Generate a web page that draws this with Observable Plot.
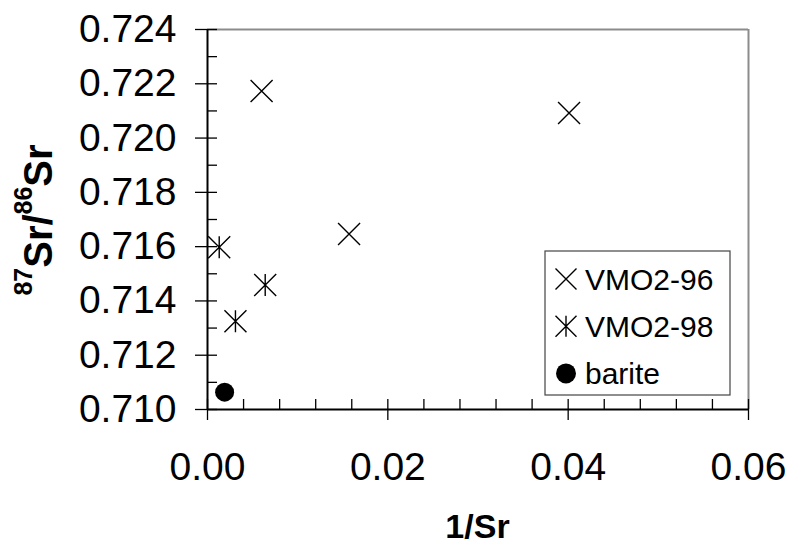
<!DOCTYPE html>
<html><head><meta charset="utf-8">
<script src="https://cdn.jsdelivr.net/npm/d3@7"></script>
<script src="https://cdn.jsdelivr.net/npm/@observablehq/plot@0.6"></script>
<style>body{margin:0;background:#fff}</style>
</head><body><div id="chart"></div>
<script>
// ---- data ----
const vmo96X = [0.0060, 0.0157, 0.0401];
const vmo96Y = [0.72173, 0.71647, 0.72092];
const vmo98X = [0.0013, 0.0031, 0.0064];
const vmo98Y = [0.71598, 0.71325, 0.71459];
const bariteX = [0.0019];
const bariteY = [0.71064];
const seriesNames = ["VMO2-96", "VMO2-98", "barite"];
const xTicks = [0.00, 0.02, 0.04, 0.06];
const xMinorTicks = [0.000, 0.004, 0.008, 0.012, 0.016, 0.020, 0.024, 0.028, 0.032, 0.036, 0.040, 0.044, 0.048, 0.052, 0.056, 0.060];
const yTicks = [0.710, 0.712, 0.714, 0.716, 0.718, 0.720, 0.722, 0.724];
const yMinorTicks = [0.710, 0.711, 0.712, 0.713, 0.714, 0.715, 0.716, 0.717, 0.718, 0.719, 0.720, 0.721, 0.722, 0.723, 0.724];
const xLabel = "1/Sr";

// ---- symbols ----
const timesSym = {draw(ctx, size) { const r = Math.sqrt(size / Math.PI);
  ctx.moveTo(-r, -r); ctx.lineTo(r, r); ctx.moveTo(-r, r); ctx.lineTo(r, -r); }};
const starSym = {draw(ctx, size) { const r = Math.sqrt(size / Math.PI);
  ctx.moveTo(-r, -r); ctx.lineTo(r, r); ctx.moveTo(-r, r); ctx.lineTo(r, -r);
  ctx.moveTo(0, -r); ctx.lineTo(0, r); }};

const s96 = vmo96X.map((x, i) => ({x, y: vmo96Y[i]}));
const s98 = vmo98X.map((x, i) => ({x, y: vmo98Y[i]}));
const sBar = bariteX.map((x, i) => ({x, y: bariteY[i]}));

const font = "Liberation Sans, Arial, Helvetica, sans-serif";
const W = 791, H = 546, mL = 207, mR = 43, mT = 29, mB = 137;
const innerTick = 10;

const chart = Plot.plot({
  width: W, height: H,
  marginLeft: mL, marginRight: mR, marginTop: mT, marginBottom: mB,
  style: {fontFamily: font, fontSize: "39px", color: "#000", background: "#fff", overflow: "visible"},
  x: {domain: [0, 0.06], axis: null},
  y: {domain: [0.710, 0.724], axis: null},
  marks: [
    Plot.ruleX([0.06], {stroke: "#8c8c8c", strokeWidth: 2}),
    Plot.ruleY([0.724], {stroke: "#8c8c8c", strokeWidth: 2}),
    // inner (inward-pointing) ticks
    Plot.tickY(yMinorTicks, {y: d => d, stroke: "#000", strokeWidth: 1.3, insetRight: W - mL - mR - innerTick}),
    Plot.tickX(xMinorTicks, {x: d => d, stroke: "#000", strokeWidth: 1.3, insetTop: H - mT - mB - innerTick}),
    // outer major ticks with labels
    Plot.axisY(yTicks, {tickSize: 12, tickPadding: 19, tickFormat: d3.format(".3f"), label: null, fontSize: 39, stroke: "#000", strokeWidth: 1.3}),
    Plot.axisX(xTicks, {tickSize: 11, tickPadding: 32, tickFormat: d3.format(".2f"), label: null, fontSize: 39, stroke: "#000", strokeWidth: 1.3}),
    Plot.ruleX([0], {stroke: "#000", strokeWidth: 2}),
    Plot.ruleY([0.710], {stroke: "#000", strokeWidth: 2}),
    Plot.dot(s96, {x: "x", y: "y", symbol: timesSym, r: 11, fill: "none", stroke: "#000", strokeWidth: 1.4}),
    Plot.dot(s98, {x: "x", y: "y", symbol: starSym, r: 11, fill: "none", stroke: "#000", strokeWidth: 1.4}),
    Plot.dot(sBar, {x: "x", y: "y", r: 9.5, fill: "#000", stroke: "none"})
  ]
});
document.getElementById("chart").appendChild(chart);

const svg = d3.select(chart);
// axis titles
svg.append("text").attr("x", 477.5).attr("y", 538).attr("text-anchor", "middle")
  .attr("font-family", font).attr("font-weight", "bold").attr("font-size", 34).attr("fill", "#000").text(xLabel);
const yt = svg.append("text").attr("transform", "translate(52,220) rotate(-90)")
  .attr("text-anchor", "middle").attr("font-family", font).attr("font-weight", "bold")
  .attr("font-size", 40).attr("fill", "#000");
yt.append("tspan").attr("font-size", 25).attr("dy", -20).text("87");
yt.append("tspan").attr("dy", 20).text("Sr/");
yt.append("tspan").attr("font-size", 25).attr("dy", -20).text("86");
yt.append("tspan").attr("dy", 20).text("Sr");

// legend
const lg = svg.append("g");
lg.append("rect").attr("x", 545).attr("y", 251).attr("width", 185).attr("height", 144)
  .attr("fill", "#fff").attr("stroke", "#444").attr("stroke-width", 1.2);
const legSyms = [timesSym, starSym, d3.symbolCircle];
const legSizes = [Math.PI * 10.5 * 10.5, Math.PI * 10.5 * 10.5, Math.PI * 10 * 10];
seriesNames.forEach((name, i) => {
  const cy = 279 + i * 47.2;
  const p = lg.append("path").attr("transform", `translate(566,${cy})`)
    .attr("d", d3.symbol(legSyms[i], legSizes[i])());
  if (i < 2) p.attr("fill", "none").attr("stroke", "#000").attr("stroke-width", 1.4);
  else p.attr("fill", "#000");
  lg.append("text").attr("x", 585).attr("y", cy + 10.5).attr("text-anchor", "start")
    .attr("font-family", font).attr("font-size", 30).attr("fill", "#000").text(name);
});
</script>
</body></html>
